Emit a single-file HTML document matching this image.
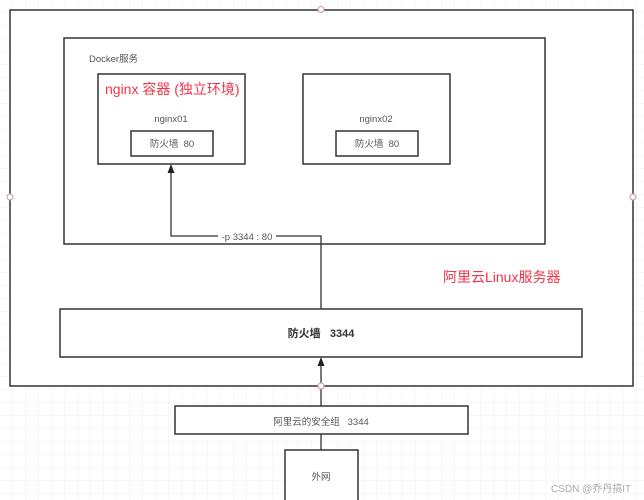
<!DOCTYPE html>
<html><head><meta charset="utf-8"><style>
html,body{margin:0;padding:0;background:#fff;}
svg{display:block;}
text{font-family:"Liberation Sans","Noto Sans CJK SC",sans-serif;white-space:pre;}
</style></head><body>
<svg width="644" height="500" viewBox="0 0 644 500" xmlns="http://www.w3.org/2000/svg">
<defs>
<pattern id="g" width="13" height="13" patternUnits="userSpaceOnUse">
<path d="M13 0V13M0 13H13" fill="none" stroke="#efefef" stroke-width="1"/>
</pattern>
</defs>
<rect width="644" height="500" fill="url(#g)"/>
<g fill="#fff" stroke="#333" stroke-width="1.5">
<rect x="10" y="10" width="623" height="376"/>
<rect x="64" y="38" width="481" height="206"/>
<rect x="98" y="74" width="147" height="90"/>
<rect x="131" y="131" width="82" height="25"/>
<rect x="303" y="74" width="147" height="90"/>
<rect x="336" y="131" width="82" height="25"/>
<rect x="60" y="309" width="522" height="48"/>
<rect x="175" y="406" width="293" height="28"/>
<rect x="285" y="450" width="73" height="60"/>
</g>
<g fill="none" stroke="#333" stroke-width="1.3">
<path d="M171 172V236H218M276 236H321V309"/>
<path d="M321 450V434M321 406V365"/>
</g>
<g fill="#222">
<path d="M171 164L167.5 173H174.5Z"/>
<path d="M321 357L317.5 366H324.5Z"/>
</g>
<g fill="#fff" stroke="#c99" stroke-width="1">
<circle cx="321" cy="9.5" r="3"/>
<circle cx="10" cy="197" r="3"/>
<circle cx="633" cy="197" r="3"/>
<circle cx="321" cy="386" r="3"/>
</g>
<g fill="#555" font-size="9.5">
<text x="89" y="62">Docker服务</text>
<text x="171" y="122" text-anchor="middle">nginx01</text>
<text x="376" y="122" text-anchor="middle">nginx02</text>
<text x="172" y="147" text-anchor="middle">防火墙  80</text>
<text x="377" y="147" text-anchor="middle">防火墙  80</text>
<text x="247" y="240" text-anchor="middle">-p 3344 : 80</text>
<text x="321" y="425" text-anchor="middle">阿里云的安全组   3344</text>
<text x="321" y="480" text-anchor="middle">外网</text>
</g>
<text x="321" y="337" text-anchor="middle" font-size="11" font-weight="bold" fill="#333">防火墙   3344</text>
<g fill="#f0344a" font-size="14">
<text x="105" y="94">nginx 容器 (独立环境)</text>
<text x="443" y="282">阿里云Linux服务器</text>
</g>
<text x="551" y="492" font-size="10" fill="#aaa">CSDN @乔丹搞IT</text>
</svg>
</body></html>
